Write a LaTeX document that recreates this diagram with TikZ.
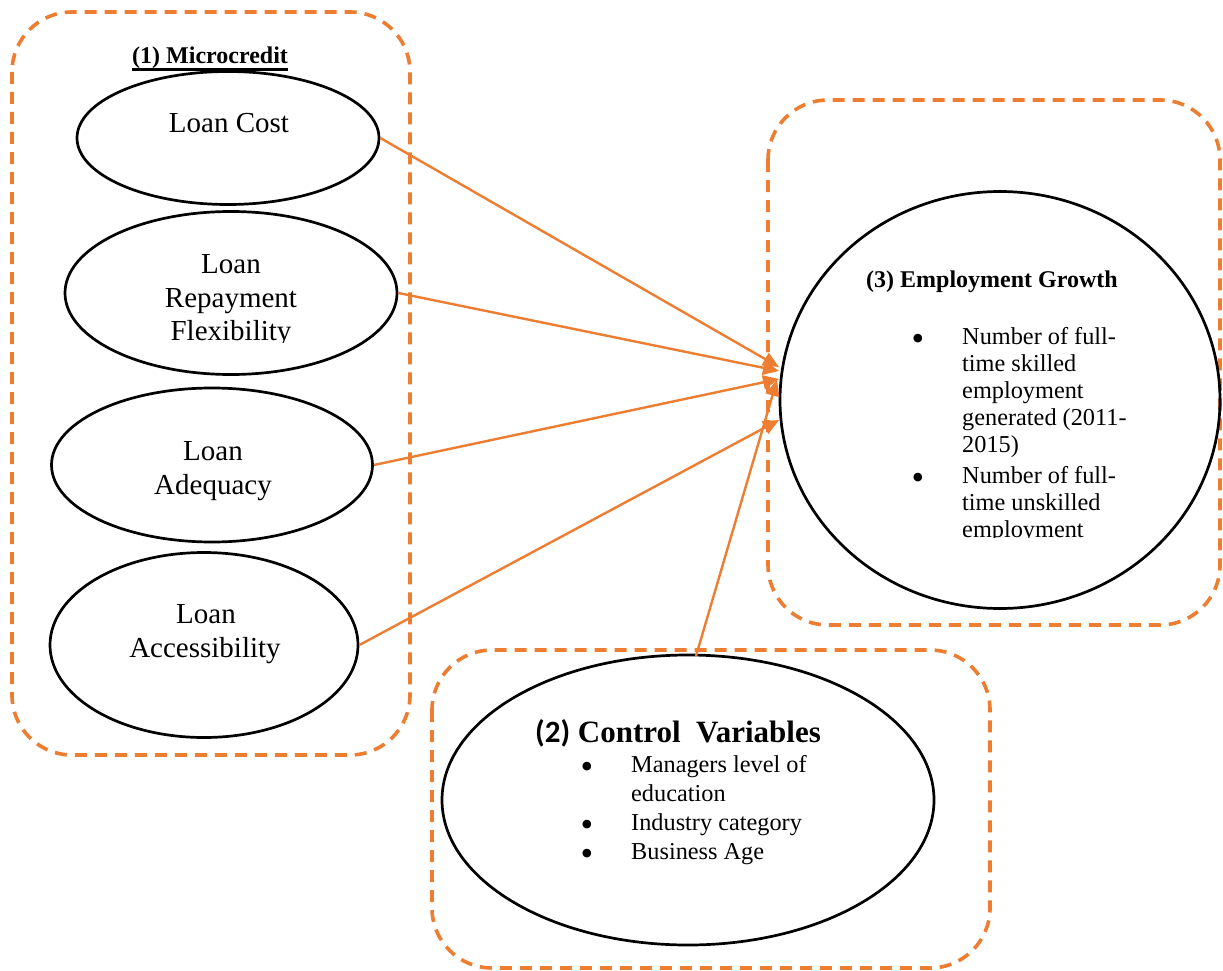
\documentclass[tikz,border=0pt]{standalone}
\usepackage{fontspec}
\setmainfont{Liberation Serif}
\newfontfamily\carl{Carlito}
\usetikzlibrary{shapes.geometric,arrows.meta}
\definecolor{dorange}{HTML}{ED7D31}
\tikzset{
  grp/.style={draw=dorange, line width=3.6pt, dash pattern=on 12pt off 8pt, rounded corners=60pt},
  var/.style={draw=black, line width=2.7pt, ellipse, inner sep=0pt},
  lnk/.style={draw=dorange, line width=2.4pt, -{Triangle[length=16pt,width=14pt]}},
  lbl/.style={font=\fontsize{29}{33}\selectfont, anchor=base, inner sep=0pt},
  ln/.style={font=\fontsize{24.3}{27}\selectfont, anchor=base west, inner sep=0pt},
  bul/.style={font=\fontsize{36}{27}\selectfont, anchor=base, inner sep=0pt, yshift=-6pt, text height=14pt, text depth=0pt},
  ttl/.style={font=\bfseries\fontsize{24}{28}\selectfont, anchor=base west, inner sep=0pt},
}
\begin{document}
\begin{tikzpicture}[x=1pt,y=-1pt]
\useasboundingbox (0,0) rectangle (1223,971);
% group boxes
\draw[grp] (12,12) rectangle (410,755);
\draw[grp] (768,100) rectangle (1220,625);
\draw[grp] (432,650) rectangle (990,968);

% microcredit title
\node[ttl] (mt) at (132,64) {(1) Microcredit};
\draw[line width=3pt] ([yshift=-5.5pt]mt.base west) -- ([yshift=-5.5pt]mt.base east);

% ellipses
\node[var, minimum width=302pt, minimum height=133pt] (cost) at (228,138) {};
\node[var, minimum width=332pt, minimum height=163pt] (rep) at (231,293) {};
\node[var, minimum width=321pt, minimum height=154pt] (ade) at (212,465) {};
\node[var, minimum width=308pt, minimum height=185pt] (acc) at (204,645) {};
\node[var, minimum width=440pt, minimum height=417pt] (emp) at (1000,400) {};
\node[var, minimum width=492pt, minimum height=290pt] (ctl) at (688,800) {};

% ellipse labels
\node[lbl] (costt) at (229,133) {Loan Cost};
\begin{scope}
\clip (60,200) rectangle (400,342);
\node[lbl] (rep1) at (231,273) {Loan};
\node[lbl] (rep2) at (231,307) {Repayment};
\node[lbl] (rep3) at (231,340) {Flexibility};
\end{scope}
\node[lbl] (ade1) at (213,460) {Loan};
\node[lbl] (ade2) at (213,494) {Adequacy};
\node[lbl] (acc1) at (206,623) {Loan};
\node[lbl] (acc2) at (205,657) {Accessibility};

% employment growth text
\node[ttl] (et) at (866,287) {(3) Employment Growth};
\begin{scope}
\clip (800,300) rectangle (1200,537);
\node[bul] (eb1) at (918,344) {\textbullet};
\node[ln] (e1) at (962,344) {Number of full-};
\node[ln] (e2) at (962,371) {time skilled};
\node[ln] (e3) at (962,398) {employment};
\node[ln] (e4) at (962,425) {generated (2011-};
\node[ln] (e5) at (962,452) {2015)};
\node[bul] (eb2) at (918,483) {\textbullet};
\node[ln] (e6) at (962,483) {Number of full-};
\node[ln] (e7) at (962,510) {time unskilled};
\node[ln] (e8) at (962,537) {employment};
\end{scope}

% control variables text
\node[anchor=base west, inner sep=0pt, font=\bfseries\fontsize{31}{35}\selectfont] (ct) at (535,742) {{\carl (2)} Control\ \ Variables};
\node[bul] (cb1) at (587,772) {\textbullet};
\node[ln] (c1) at (631,772) {Managers level of};
\node[ln] (c2) at (631,801) {education};
\node[bul] (cb3) at (587,830) {\textbullet};
\node[ln] (c3) at (631,830) {Industry category};
\node[bul] (cb4) at (587,859) {\textbullet};
\node[ln] (c4) at (631,859) {Business Age};

% arrow endpoints
\coordinate (t1) at (779,367);
\coordinate (t2) at (779,371);
\coordinate (t3) at (779,379);
\coordinate (t4) at (779,420);
\coordinate (t5) at (777,380);
\coordinate (s5) at (696,656);

\draw[lnk] (cost.east) -- (t1);
\draw[lnk] (rep.east) -- (t2);
\draw[lnk] (ade.east) -- (t3);
\draw[lnk] (acc.east) -- (t4);
\draw[lnk] (s5) -- (t5);
\end{tikzpicture}
\end{document}
